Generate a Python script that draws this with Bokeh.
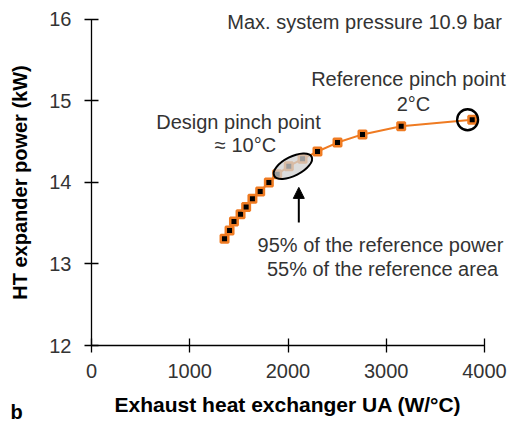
from bokeh.plotting import figure
from bokeh.models import Range1d, Label, Arrow, NormalHead, FixedTicker
from bokeh.embed import file_html
from bokeh.resources import INLINE

# Data
ua_values = [1354, 1405, 1450, 1517, 1574, 1638, 1717, 1805, 1890, 2008, 2148, 2300, 2504, 2758, 3152, 3875]
power_values = [13.31, 13.41, 13.52, 13.61, 13.70, 13.80, 13.89, 14.00, 14.10, 14.20, 14.29, 14.38, 14.49, 14.59, 14.69, 14.77]
x_ticks = [0, 1000, 2000, 3000, 4000]
y_ticks = [12, 13, 14, 15, 16]

FONT = "Liberation Sans"
ORANGE = "#EF7B22"
TXT = "#333333"

# The frame covers the whole canvas; axes are pinned at x=0 and y=12
p = figure(frame_width=519, frame_height=423,
           min_border_left=0, min_border_right=0, min_border_top=0, min_border_bottom=0,
           x_range=Range1d(-926.2, 4356.2), y_range=Range1d(11.043, 16.233),
           output_backend="svg", toolbar_location=None)
p.outline_line_color = None
p.xgrid.visible = False
p.ygrid.visible = False
p.background_fill_color = "white"
p.border_fill_color = "white"

for ax in (p.xaxis[0], p.yaxis[0]):
    ax.axis_line_color = "black"
    ax.axis_line_width = 1.3
    ax.major_tick_line_color = "black"
    ax.major_tick_line_width = 1.3
    ax.major_tick_in = 7
    ax.major_tick_out = 7
    ax.minor_tick_line_color = None
    ax.major_label_text_font = FONT
    ax.major_label_text_font_size = "20px"
    ax.major_label_text_color = TXT
    ax.axis_label_text_font = FONT
    ax.axis_label_text_font_size = "20px"
    ax.axis_label_text_font_style = "bold"
    ax.axis_label_text_color = "black"

p.xaxis.ticker = FixedTicker(ticks=x_ticks)
p.yaxis.ticker = FixedTicker(ticks=y_ticks)
p.xaxis.bounds = (x_ticks[0], x_ticks[-1])
p.yaxis.bounds = (y_ticks[0], y_ticks[-1])
p.xaxis.fixed_location = y_ticks[0]
p.yaxis.fixed_location = x_ticks[0]
p.xaxis.axis_label = "Exhaust heat exchanger UA (W/°C)"
p.yaxis.axis_label = "HT expander power (kW)"
p.xaxis.axis_label_text_font_size = "21px"
p.xaxis.major_label_standoff = 11
p.xaxis.axis_label_standoff = 12
p.yaxis.major_label_standoff = 13
p.yaxis.axis_label_standoff = 15

# Series
p.line(ua_values, power_values, line_color=ORANGE, line_width=2)
p.scatter(ua_values, power_values, marker="square", size=7.5,
          fill_color="black", line_color=ORANGE, line_width=2.5)

# Design pinch point ellipse
p.ellipse(x=2050, y=14.20, width=42, height=19, angle=0.47,
          width_units="screen", height_units="screen",
          fill_color="#D0D0D0", fill_alpha=0.75, line_color="black", line_width=2)

# Reference pinch point circle
p.scatter([3828], [14.77], marker="circle", size=21,
          fill_color=None, line_color="black", line_width=2.3)

# Arrow
p.add_layout(Arrow(end=NormalHead(size=11, fill_color="black", line_color="black"),
                   x_start=2110, y_start=13.51, x_end=2110, y_end=13.94,
                   line_color="black", line_width=2))

def lab(x, y, text, align="center", bold=False, color=TXT):
    p.add_layout(Label(x=x, y=y, text=text,
                       text_align=align, text_baseline="middle",
                       text_font=FONT, text_font_size="20px",
                       text_font_style="bold" if bold else "normal",
                       text_color=color))

lab(2779, 15.975, "Max. system pressure 10.9 bar")
lab(3226, 15.264, "Reference pinch point")
lab(3277, 14.957, "2°C")
lab(1496, 14.748, "Design pinch point")
lab(1567, 14.454, "≈ 10°C")
lab(2941, 13.227, "95% of the reference power")
lab(2962, 12.933, "55% of the reference area")
lab(-824, 11.18, "b", align="left", bold=True, color="black")

open("out.html", "w").write(file_html(p, INLINE))
